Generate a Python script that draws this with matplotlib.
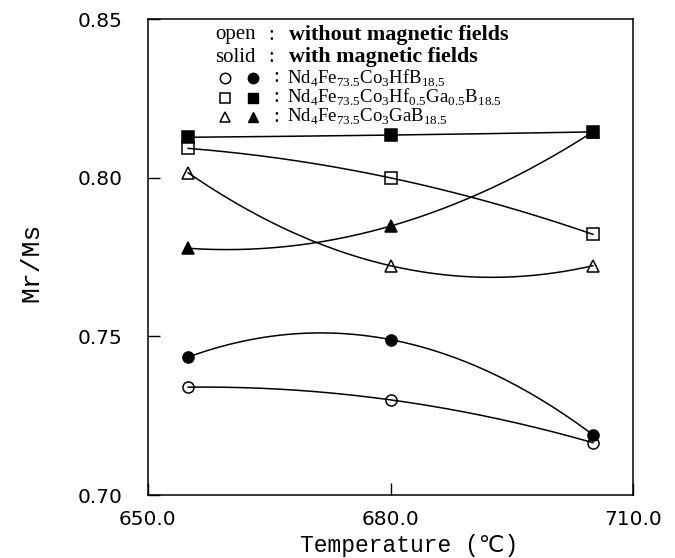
import numpy as np
import matplotlib
matplotlib.use("Agg")
from matplotlib import pyplot as plt

plt.rcParams['mathtext.fontset'] = 'custom'
plt.rcParams['mathtext.rm'] = 'Liberation Serif'

# annealing temperatures (C)
temps = [655, 680, 705]

# Mr/Ms values
hf_open = [0.7340, 0.7300, 0.7165]
hf_solid = [0.7435, 0.7490, 0.7190]
hfga_open = [0.8093, 0.8000, 0.7822]
hfga_solid = [0.8128, 0.8135, 0.8145]
ga_open = [0.8016, 0.7723, 0.7723]
ga_solid = [0.7778, 0.7848, 0.8145]

x_ticks = [650, 680, 710]
x_labels = ["650.0", "680.0", "710.0"]
y_ticks = [0.70, 0.75, 0.80, 0.85]
y_labels = ["0.70", "0.75", "0.80", "0.85"]

fig = plt.figure(figsize=(6.75, 5.58), dpi=100)
ax = fig.add_axes([0.2188, 0.1129, 0.7195, 0.8525])

series = [
    (hf_open, 'o', 'none'),
    (hf_solid, 'o', 'black'),
    (hfga_open, 's', 'none'),
    (hfga_solid, 's', 'black'),
    (ga_open, '^', 'none'),
    (ga_solid, '^', 'black'),
]

xs = np.linspace(temps[0], temps[-1], 200)
for vals, mk, fc in series:
    # smooth curve through the three points
    coef = np.polyfit(temps, vals, 2)
    ax.plot(xs, np.polyval(coef, xs), color='black', lw=1.1)
    ax.plot(temps, vals, linestyle='none', marker=mk, markersize=8,
            markerfacecolor=fc, markeredgecolor='black', markeredgewidth=1.1)

ax.set_xlim(650, 710)
ax.set_ylim(0.70, 0.85)
ax.set_xticks(x_ticks)
ax.set_xticklabels(x_labels)
ax.set_yticks(y_ticks)
ax.set_yticklabels(y_labels)
ax.tick_params(direction='in', length=8.5, width=1, labelsize=14.5)
ax.tick_params(axis='y', pad=18)
ax.tick_params(axis='x', pad=11)
for sp in ax.spines.values():
    sp.set_linewidth(1.1)

lab_font = ['Liberation Mono', 'DejaVu Sans Mono', 'DejaVu Sans']
ax.set_xlabel("Temperature (℃)", family=lab_font, fontsize=16.5, va='center')
ax.xaxis.set_label_coords(0.538, -0.107)
ax.set_ylabel("Mr/Ms", family=lab_font, fontsize=19)
ax.yaxis.set_label_coords(-0.215, 0.49)

# legend block written as text
W, H = 675.0, 558.0
def fx(px):
    return px / W
def fy(py):
    return 1 - py / H

serif = 'Liberation Serif'
fs = 15
fig.text(fx(215), fy(35), "open", family=serif, fontsize=fs, va='center')
fig.text(fx(268), fy(35), ":", family=serif, fontsize=fs, va='center')
fig.text(fx(289), fy(35), "without magnetic fields", family=serif,
         fontsize=15.8, fontweight='bold', va='center')
fig.text(fx(215), fy(57), "solid", family=serif, fontsize=fs, va='center')
fig.text(fx(268), fy(57), ":", family=serif, fontsize=fs, va='center')
fig.text(fx(289), fy(57), "with magnetic fields", family=serif,
         fontsize=15.8, fontweight='bold', va='center')

formulas = [
    r"Nd$_\mathrm{4}$Fe$_\mathrm{73.5}$Co$_\mathrm{3}$HfB$_\mathrm{18.5}$",
    r"Nd$_\mathrm{4}$Fe$_\mathrm{73.5}$Co$_\mathrm{3}$Hf$_\mathrm{0.5}$Ga$_\mathrm{0.5}$B$_\mathrm{18.5}$",
    r"Nd$_\mathrm{4}$Fe$_\mathrm{73.5}$Co$_\mathrm{3}$GaB$_\mathrm{18.5}$",
]
rows = [78, 97.5, 117]
marks = ['o', 's', '^']
for f, r, m in zip(formulas, rows, marks):
    fig.lines.append(plt.Line2D([fx(225)], [fy(r)], marker=m, markersize=7.5,
                                markerfacecolor='none', markeredgecolor='black',
                                markeredgewidth=1.1, transform=fig.transFigure))
    fig.lines.append(plt.Line2D([fx(253)], [fy(r)], marker=m, markersize=7.5,
                                markerfacecolor='black', markeredgecolor='black',
                                transform=fig.transFigure))
    fig.text(fx(273), fy(r), ":", family=serif, fontsize=fs, va='center')
    fig.text(fx(287), fy(r), f, family=serif, fontsize=13.5, va='center')

fig.savefig("out.png", dpi=100)
